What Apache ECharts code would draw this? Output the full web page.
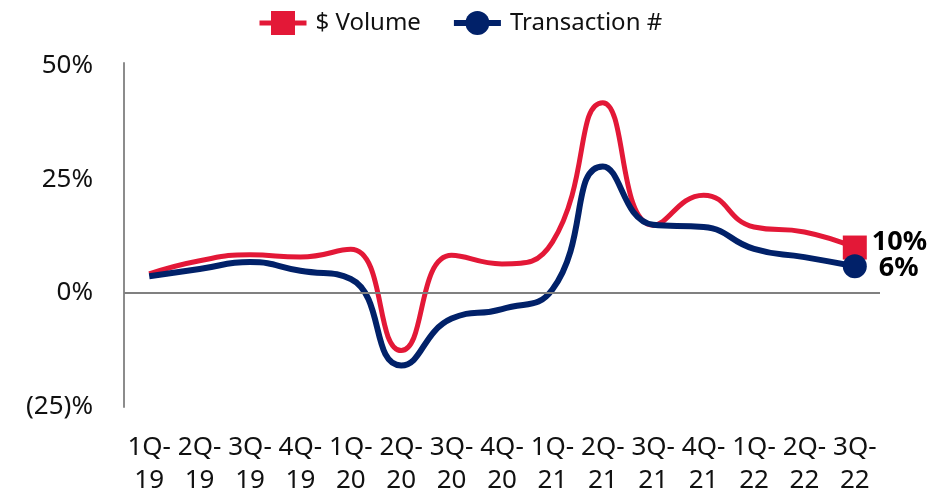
<!DOCTYPE html>
<html>
<head>
<meta charset="utf-8">
<script src="https://cdn.jsdelivr.net/npm/echarts@6/dist/echarts.min.js"></script>
<style>
html,body{margin:0;padding:0;background:#fff;}
#c{width:949px;height:491px;}
</style>
</head>
<body>
<div id="c"></div>
<script>
var categories = ['1Q-19','2Q-19','3Q-19','4Q-19','1Q-20','2Q-20','3Q-20','4Q-20','1Q-21','2Q-21','3Q-21','4Q-21','1Q-22','2Q-22','3Q-22'];
var volume = [4.2, 7.1, 8.4, 7.9, 9.6, -12.6, 8.3, 6.4, 11.2, 41.8, 14.9, 21.5, 14.5, 13.4, 10.0];
var transactions = [3.7, 5.3, 6.8, 4.9, 3.1, -15.9, -5.6, -3.5, 0.8, 27.8, 15.0, 14.5, 9.7, 7.9, 5.9];
var yTicks = [-25, 0, 25, 50];

var RED = '#E31837';
var NAVY = '#012169';
var FONT = 'Noto Sans';
var last = categories.length - 1;

function withEndMarker(arr, offset) {
  return arr.map(function (v, i) {
    if (i !== last) return v;
    return {
      value: v,
      symbolSize: 24,
      label: {
        show: true,
        position: 'right',
        offset: offset,
        formatter: function (p) { return Math.round(p.value) + '%'; },
        fontFamily: FONT,
        fontSize: 27,
        fontWeight: 'bold',
        color: '#000'
      }
    };
  });
}

var chart = echarts.init(document.getElementById('c'), null, {renderer: 'canvas'});
chart.setOption({
  animation: false,
  textStyle: {fontFamily: FONT},
  legend: {
    left: 252,
    top: 6,
    itemWidth: 47,
    itemHeight: 30,
    itemGap: 30,
    textStyle: {fontFamily: FONT, fontSize: 24, color: '#111', padding: [0, 0, 0, 4]},
    data: [
      {name: '$ Volume', lineStyle: {width: 5, color: RED}},
      {name: 'Transaction #', lineStyle: {width: 6, color: NAVY}}
    ]
  },
  grid: {left: 124, right: 69, top: 63, bottom: 84, containLabel: false, outerBoundsMode: 'none'},
  xAxis: {
    type: 'category',
    data: categories,
    boundaryGap: true,
    axisLine: {show: false},
    axisTick: {show: false},
    axisLabel: {
      interval: 0,
      margin: 24,
      fontFamily: FONT,
      fontSize: 26,
      lineHeight: 33,
      color: '#111',
      formatter: function (v) { var p = v.split('-'); return p[0] + '-\n' + p[1]; }
    }
  },
  yAxis: {
    type: 'value',
    min: -25,
    max: 50.5,
    interval: 25,
    splitLine: {show: false},
    axisTick: {show: false},
    axisLine: {show: true, lineStyle: {color: '#8c8c8c', width: 2}},
    axisLabel: {
      margin: 31,
      padding: [10, 0, 0, 0],
      fontFamily: FONT,
      fontSize: 26,
      color: '#111',
      formatter: function (v) {
        if (yTicks.indexOf(v) < 0) return '';
        return v < 0 ? '(' + Math.abs(v) + ')%' : v + '%';
      }
    }
  },
  series: [
    {
      name: '$ Volume',
      type: 'line',
      smooth: 0.5,
      symbol: 'rect',
      symbolSize: 0,
      itemStyle: {color: RED},
      lineStyle: {color: RED, width: 5},
      data: withEndMarker(volume, [0, -5]),
      markLine: {
        silent: true,
        symbol: 'none',
        label: {show: false},
        lineStyle: {color: '#808080', width: 2, type: 'solid'},
        data: [{yAxis: 0}]
      },
      z: 2
    },
    {
      name: 'Transaction #',
      type: 'line',
      smooth: 0.5,
      symbol: 'circle',
      symbolSize: 0,
      itemStyle: {color: NAVY},
      lineStyle: {color: NAVY, width: 6},
      data: withEndMarker(transactions, [7, 2]),
      z: 3
    }
  ]
});
</script>
</body>
</html>
